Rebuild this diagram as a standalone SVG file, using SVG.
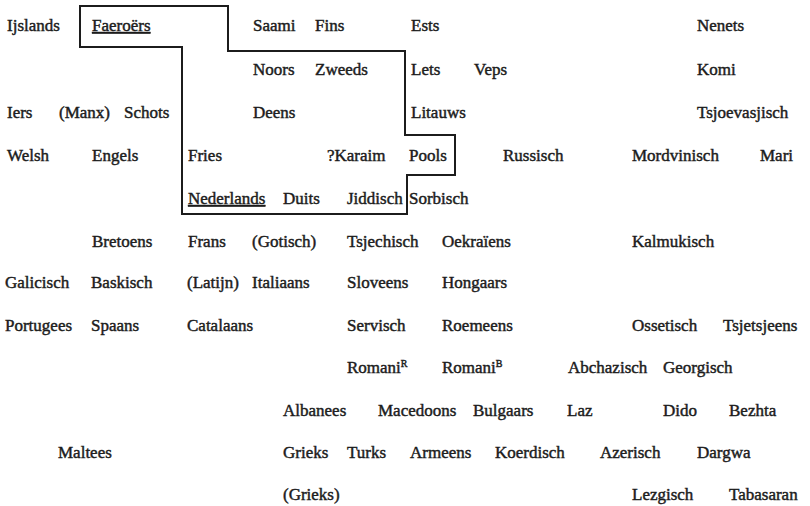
<svg xmlns="http://www.w3.org/2000/svg" width="810" height="506" viewBox="0 0 810 506">
<style>
text{font-family:"Liberation Serif","Times New Roman",serif;font-size:17px;fill:#1c1c1c;stroke:#1c1c1c;stroke-width:0.45}
.u{text-decoration:underline}
.sup{font-size:10px}
.b{fill:none;stroke:#1c1c1c;stroke-width:2}
</style>
<rect width="810" height="506" fill="#ffffff"/>
<g id="boundary">
<path class="b" d="M80,6 H228 V51 H405 V135 H455 V175 H407 V214 H182 V47 H80 Z"/>
</g>
<g id="row1">
<g id="ijslands"><text x="7" y="31">Ijslands</text></g>
<g id="faeroers"><text class="u" x="92" y="31">Faeroërs</text></g>
<g id="saami"><text x="253" y="31">Saami</text></g>
<g id="fins"><text x="315" y="31">Fins</text></g>
<g id="ests"><text x="411" y="31">Ests</text></g>
<g id="nenets"><text x="697" y="31">Nenets</text></g>
</g>
<g id="row2">
<g id="noors"><text x="253" y="75">Noors</text></g>
<g id="zweeds"><text x="315" y="75">Zweeds</text></g>
<g id="lets"><text x="411" y="75">Lets</text></g>
<g id="veps"><text x="474" y="75">Veps</text></g>
<g id="komi"><text x="697" y="75">Komi</text></g>
</g>
<g id="row3">
<g id="iers"><text x="7" y="118">Iers</text></g>
<g id="manx"><text x="59" y="118">(Manx)</text></g>
<g id="schots"><text x="124" y="118">Schots</text></g>
<g id="deens"><text x="253" y="118">Deens</text></g>
<g id="litauws"><text x="411" y="118">Litauws</text></g>
<g id="tsjoevasjisch"><text x="697" y="118">Tsjoevasjisch</text></g>
</g>
<g id="row4">
<g id="welsh"><text x="7" y="161">Welsh</text></g>
<g id="engels"><text x="92" y="161">Engels</text></g>
<g id="fries"><text x="188" y="161">Fries</text></g>
<g id="karaim"><text x="327" y="161">?Karaim</text></g>
<g id="pools"><text x="409" y="161">Pools</text></g>
<g id="russisch"><text x="503" y="161">Russisch</text></g>
<g id="mordvinisch"><text x="632" y="161">Mordvinisch</text></g>
<g id="mari"><text x="760" y="161">Mari</text></g>
</g>
<g id="row5">
<g id="nederlands"><text class="u" x="188" y="204">Nederlands</text></g>
<g id="duits"><text x="283" y="204">Duits</text></g>
<g id="jiddisch"><text x="347" y="204">Jiddisch</text></g>
<g id="sorbisch"><text x="409" y="204">Sorbisch</text></g>
</g>
<g id="row6">
<g id="bretoens"><text x="92" y="247">Bretoens</text></g>
<g id="frans"><text x="188" y="247">Frans</text></g>
<g id="gotisch"><text x="252" y="247">(Gotisch)</text></g>
<g id="tsjechisch"><text x="347" y="247">Tsjechisch</text></g>
<g id="oekraiens"><text x="442" y="247">Oekraïens</text></g>
<g id="kalmukisch"><text x="632" y="247">Kalmukisch</text></g>
</g>
<g id="row7">
<g id="galicisch"><text x="5" y="288">Galicisch</text></g>
<g id="baskisch"><text x="91" y="288">Baskisch</text></g>
<g id="latijn"><text x="187" y="288">(Latijn)</text></g>
<g id="italiaans"><text x="252" y="288">Italiaans</text></g>
<g id="sloveens"><text x="347" y="288">Sloveens</text></g>
<g id="hongaars"><text x="442" y="288">Hongaars</text></g>
</g>
<g id="row8">
<g id="portugees"><text x="5" y="331">Portugees</text></g>
<g id="spaans"><text x="91" y="331">Spaans</text></g>
<g id="catalaans"><text x="187" y="331">Catalaans</text></g>
<g id="servisch"><text x="347" y="331">Servisch</text></g>
<g id="roemeens"><text x="442" y="331">Roemeens</text></g>
<g id="ossetisch"><text x="632" y="331">Ossetisch</text></g>
<g id="tsjetsjeens"><text x="723" y="331">Tsjetsjeens</text></g>
</g>
<g id="row9">
<g id="romaniR"><text x="347" y="373">Romani<tspan class="sup" dy="-6">R</tspan></text></g>
<g id="romaniB"><text x="442" y="373">Romani<tspan class="sup" dy="-6">B</tspan></text></g>
<g id="abchazisch"><text x="568" y="373">Abchazisch</text></g>
<g id="georgisch"><text x="663" y="373">Georgisch</text></g>
</g>
<g id="row10">
<g id="albanees"><text x="283" y="416">Albanees</text></g>
<g id="macedoons"><text x="378" y="416">Macedoons</text></g>
<g id="bulgaars"><text x="473" y="416">Bulgaars</text></g>
<g id="laz"><text x="567" y="416">Laz</text></g>
<g id="dido"><text x="663" y="416">Dido</text></g>
<g id="bezhta"><text x="729" y="416">Bezhta</text></g>
</g>
<g id="row11">
<g id="maltees"><text x="58" y="458">Maltees</text></g>
<g id="grieks"><text x="283" y="458">Grieks</text></g>
<g id="turks"><text x="347" y="458">Turks</text></g>
<g id="armeens"><text x="410" y="458">Armeens</text></g>
<g id="koerdisch"><text x="495" y="458">Koerdisch</text></g>
<g id="azerisch"><text x="600" y="458">Azerisch</text></g>
<g id="dargwa"><text x="697" y="458">Dargwa</text></g>
</g>
<g id="row12">
<g id="grieks2"><text x="283" y="500">(Grieks)</text></g>
<g id="lezgisch"><text x="632" y="500">Lezgisch</text></g>
<g id="tabasaran"><text x="729" y="500">Tabasaran</text></g>
</g>
</svg>
